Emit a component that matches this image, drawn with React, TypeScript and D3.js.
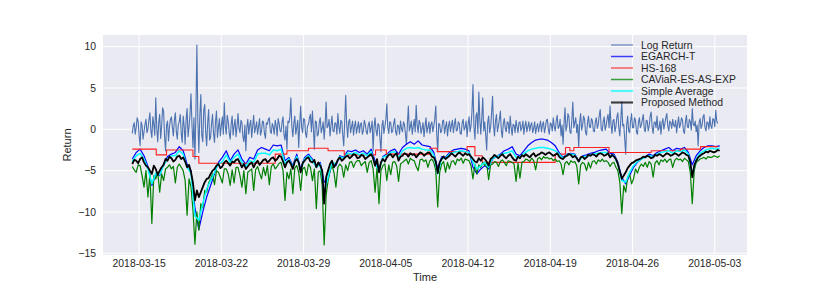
import * as d3 from "d3";

// samples; each series has its own sampling step
const start = new Date(Date.UTC(2018, 2, 14, 10));
const logStepHours = 2;
const fineStepHours = 4;
const coarseStepHours = 8;

const logReturn = [
  -0.5, 0.4, 0.8, -0.6, 0.2, 1.4, 1.0, -0.8, -2.0, 0.9,
  0.5, -1.2, -0.3, 0.6, 1.2, -0.4, 0.0, 1.1, 2.0, -0.2,
  -1.0, 1.5, 0.6, -0.7, 3.8, 0.2, -1.5, 0.8, 1.8, -1.1,
  0.4, 2.6, 2.2, -0.9, -2.6, 0.5, 1.0, -1.4, 0.3, 1.2,
  1.5, 0.2, -0.8, 1.1, 2.0, -0.3, -1.2, 0.6, 0.9, 1.8,
  -0.5, -1.6, 1.6, 0.4, -1.8, 1.2, 2.5, -0.9, 0.3, 1.9,
  4.3, 0.5, -2.2, 1.4, -3.6, 2.1, 10.2, 1.0, -2.8, 1.6,
  4.2, -0.7, -1.5, 2.3, 3.0, -0.4, -2.0, 0.8, 2.4, -1.3,
  -1.0, 0.7, 1.8, -0.5, -1.6, 0.9, 2.2, -1.0, 0.2, 1.3,
  -0.8, 0.5, 1.5, -0.6, 3.2, 0.4, -0.6, 1.7, 1.0, -0.4,
  -1.2, 0.6, 1.6, -0.7, 0.4, 1.2, -0.9, 0.3, 1.9, 0.1,
  -0.4, 1.1, 0.8, -0.9, -1.5, 0.5, -2.6, 0.2, 1.2, -0.6,
  0.5, 1.1, -1.0, 0.4, 1.7, -0.4, 0.2, 0.9, -0.6, 0.3,
  1.3, -0.7, -0.2, 1.0, 0.9, -0.5, -1.1, 0.8, 0.6, 1.2,
  1.4, -0.2, -0.5, 0.7, 0.3, -0.6, 1.1, 0.4, -0.8, 1.3,
  0.7, -0.2, -0.3, 0.9, 1.5, -0.7, -1.3, 0.4, -2.4, 1.0,
  0.8, 1.5, 3.8, 0.3, -0.9, 0.7, 1.6, -0.6, 0.2, 1.1,
  -2.2, 0.6, 2.8, 0.2, -0.4, 1.3, 1.2, -0.5, -1.0, 0.4,
  0.6, 1.4, 1.8, -0.3, 2.2, 0.1, -2.4, 1.0, 0.9, -0.8,
  -0.6, 0.8, 1.4, -0.4, 0.1, 0.9, -1.2, 0.5, 3.3, 0.2,
  0.4, 1.2, -0.8, 0.5, 1.6, -0.2, -0.3, 0.8, 0.7, -0.6,
  1.9, 0.3, -0.5, 1.1, 0.9, -0.7, -2.0, 1.0, 4.1, 0.6,
  -1.0, 0.9, 1.2, -0.4, 0.3, 1.0, -0.7, 0.4, 1.0, -0.5,
  0.2, 0.9, -0.4, 0.6, 0.8, -0.6, -0.2, 1.1, 0.6, -0.3,
  -0.6, 0.5, 0.9, -0.4, 0.2, 1.0, -2.6, 0.3, 1.4, -0.2,
  -0.8, 0.7, 0.5, -1.1, -2.7, 0.4, 1.1, -0.5, 0.3, 1.2,
  3.1, 0.2, -0.5, 0.9, 0.8, -0.4, -0.2, 0.7, 1.3, -0.3,
  -0.7, 0.5, 0.4, -0.6, 1.0, 0.1, -0.3, 0.9, 0.6, -0.5,
  -1.8, 0.6, 2.8, -0.2, 0.3, 1.0, -0.6, 0.4, 1.2, -0.3,
  2.9, 0.5, -0.4, 1.1, 0.7, -0.5, 0.1, 0.8, -0.9, 0.3,
  1.4, -0.4, 0.2, 0.9, -0.5, 0.6, 0.9, -0.3, 0.4, 1.3,
  2.8, -0.6, -2.7, 0.7, 0.6, -0.4, -0.2, 1.0, 1.1, -0.5,
  0.3, 0.9, -0.8, 0.4, 1.0, -0.3, 0.5, 1.1, -0.4, 0.6,
  1.3, -0.2, -0.1, 0.9, 0.7, -0.5, -0.6, 0.8, 1.2, -0.1,
  0.2, 1.0, -0.9, 0.6, 1.5, -0.3, 0.4, 2.2, 5.4, 0.3,
  -1.2, 1.6, 2.0, -0.5, 4.5, 1.2, -0.6, 1.4, 3.8, -0.2,
  0.9, -0.7, -2.5, 0.8, 1.6, -0.4, 0.2, 1.9, 4.0, 0.5,
  -0.8, 1.0, 1.8, -0.3, 0.4, 1.2, 2.2, -0.2, -1.0, 0.7,
  1.3, 0.1, -0.3, 0.9, 0.8, -0.5, 1.6, 0.2, -0.7, 0.6,
  0.5, -0.4, 1.1, 0.3, -0.4, 0.8, 0.9, -0.2, 0.2, 1.0,
  -0.6, 0.4, 1.0, -0.3, 0.3, 0.9, -0.2, 0.5, 0.8, -0.4,
  0.1, 0.9, -0.5, 0.2, 0.7, -0.3, 0.4, 1.0, -0.3, 0.6,
  0.9, -0.4, 0.2, 1.1, 1.2, 0.0, -0.6, 0.8, 0.6, -0.2,
  1.4, 0.3, -0.2, 1.0, 1.7, 0.1, 0.3, 1.2, -0.8, 0.5,
  -1.8, 0.7, 2.6, -0.2, 0.4, 1.9, 1.5, -0.3, -0.5, 1.1,
  3.3, 0.2, 0.8, 1.4, -0.4, 0.6, -2.2, 0.9, 1.9, -0.1,
  0.5, 1.6, 1.2, -0.4, -0.7, 0.8, 1.6, 0.3, 0.2, 1.3,
  1.0, -0.2, -0.3, 0.9, 1.4, 0.1, 0.6, 1.7, 2.4, 0.0,
  -0.2, 0.9, 1.5, -0.1, 0.4, 1.3, 1.8, 0.2, 2.8, 0.6,
  -0.5, 1.0, 1.2, -0.3, 0.3, 1.5, 2.0, 0.1, -0.8, 1.2,
  3.3, 0.4, 0.6, -1.2, -3.0, 0.5, 1.6, -0.2, -0.4, 1.0,
  1.9, 0.2, 0.2, 1.4, 1.1, -0.3, -0.6, 0.8, 1.4, 0.2,
  0.5, 1.2, 1.8, 0.0, -0.3, 1.1, 1.0, -0.2, 0.4, 1.6,
  2.1, 0.3, -0.5, 0.8, 0.9, 0.2, 1.6, -0.1, 0.1, 1.0,
  -0.6, 0.7, 1.3, 0.0, 0.7, 1.4, 1.9, 0.4, -0.2, 1.0,
  0.8, 0.1, 1.2, 0.5, 0.3, 1.1, -0.4, 0.6, 1.5, 0.2,
  0.6, 1.4, 1.1, -0.2, -0.5, 0.9, 1.7, 0.3, 0.2, 1.2,
  0.9, -0.1, 2.5, 0.6, 0.4, 1.0, -0.3, 0.5, -2.0, 0.8,
  1.3, 0.1, 0.5, 1.5, 1.8, 0.2, -0.2, 0.9, 0.8, 0.0,
  1.5, 0.4, 0.1, 1.3, 1.2, 0.3, 2.3, 1.0, 0.7,
];

const egarchT = [
  -3.6, -2.8, -2.4, -3.2, -4.5, -6.8, -5.5, -5.6, -4.2, -3.3,
  -3.0, -2.8, -2.1, -2.6, -4.2, -5.0, -9.5, -12.1, -10.0, -8.2,
  -6.8, -5.4, -4.0, -3.4, -2.6, -3.8, -3.0, -2.5, -3.6, -4.2,
  -3.4, -3.6, -2.5, -2.2, -2.4, -2.6, -1.9, -2.0, -1.9, -3.8,
  -3.4, -4.4, -3.0, -4.8, -3.4, -3.0, -3.6, -4.5, -4.0, -6.4,
  -6.0, -4.2, -4.4, -3.2, -3.4, -2.6, -2.7, -2.5, -2.8, -2.6,
  -3.0, -2.4, -3.8, -4.8, -3.3, -3.0, -2.6, -2.4, -3.0, -2.2,
  -1.8, -1.5, -1.8, -1.4, -1.9, -2.0, -2.1, -2.8, -4.8, -3.3,
  -3.4, -2.8, -2.5, -2.4, -2.3, -2.4, -2.6, -4.6, -5.4, -4.8,
  -4.4, -4.8, -3.6, -3.3, -3.0, -2.6, -2.4, -2.1, -3.0, -3.2,
  -2.6, -2.0, -1.6, -1.3, -1.2, -1.2, -1.3, -1.6, -2.0, -2.8,
  -3.4, -3.0, -2.9, -3.0, -3.8, -3.2, -3.1, -2.9, -2.8, -2.6,
  -2.5, -2.4, -2.9, -3.0, -4.0, -5.8, -6.6, -5.6, -4.6, -4.0,
  -3.6, -3.3, -3.0, -3.2, -2.8, -2.6, -2.4, -2.2, -2.6, -2.3,
  -2.4, -2.2, -2.8, -4.3, -3.2, -2.6, -2.2, -2.0, -2.0, -2.1, -2.0,
];

const simpleAvg = [
  -3.9, -3.2, -2.9, -3.6, -4.8, -6.6, -5.3, -5.5, -4.4, -3.6,
  -3.2, -3.2, -2.6, -3.0, -4.6, -5.3, -10.5, -11.0, -9.0, -7.2,
  -6.2, -5.2, -4.2, -3.9, -3.1, -4.0, -3.4, -3.0, -4.0, -4.5,
  -3.8, -4.0, -3.0, -2.9, -2.9, -3.1, -2.5, -2.6, -2.4, -4.2,
  -3.6, -4.6, -3.3, -5.0, -3.6, -3.2, -3.8, -4.6, -4.2, -7.6,
  -5.8, -4.0, -4.2, -3.3, -3.5, -2.9, -3.0, -2.8, -3.1, -2.9,
  -3.2, -2.7, -4.2, -5.0, -3.4, -3.2, -2.8, -2.7, -3.4, -2.6,
  -2.3, -2.2, -2.3, -2.2, -2.4, -2.5, -2.5, -3.1, -5.4, -3.5,
  -3.5, -3.0, -2.8, -2.7, -2.6, -2.7, -2.8, -4.0, -4.8, -4.4,
  -4.0, -4.6, -3.5, -3.3, -3.1, -2.9, -2.8, -2.6, -3.4, -3.3,
  -2.9, -2.6, -2.4, -2.3, -2.2, -2.2, -2.3, -2.4, -2.6, -3.0,
  -3.5, -3.1, -3.0, -3.1, -3.9, -3.3, -3.3, -3.1, -3.0, -2.9,
  -2.8, -2.8, -3.2, -3.2, -4.2, -6.2, -6.4, -5.2, -4.4, -3.9,
  -3.6, -3.4, -3.2, -3.3, -3.0, -2.8, -2.7, -2.6, -2.9, -2.6,
  -2.7, -2.5, -3.0, -5.5, -3.6, -2.9, -2.6, -2.4, -2.3, -2.4, -2.3,
];

const caviar = [
  -4.5, -4.9, -5.2, -4.3, -4.4, -5.6, -7.0, -5.0, -8.2, -5.4,
  -11.4, -5.6, -6.0, -5.2, -7.6, -5.4, -6.2, -4.8, -4.6, -4.3,
  -4.8, -4.5, -6.5, -4.6, -4.2, -4.6, -5.0, -6.2, -10.4, -6.0,
  -7.0, -9.8, -13.9, -10.0, -12.2, -9.0, -9.5, -7.4, -7.6, -6.5,
  -6.0, -5.4, -6.7, -5.0, -5.2, -5.8, -6.5, -4.8, -4.8, -5.4,
  -6.8, -4.9, -6.5, -4.6, -4.6, -5.6, -7.0, -5.0, -7.8, -5.2,
  -5.0, -4.8, -7.4, -4.9, -4.5, -5.3, -6.0, -4.6, -5.6, -4.4,
  -6.7, -4.5, -4.2, -4.8, -4.5, -4.1, -4.0, -5.0, -8.6, -5.2,
  -6.0, -4.8, -7.8, -4.7, -4.4, -5.2, -7.4, -4.8, -4.6, -5.6,
  -4.2, -4.6, -6.2, -4.8, -9.6, -5.2, -5.0, -6.8, -14.0, -8.0,
  -6.2, -5.0, -4.4, -5.2, -7.0, -4.6, -4.2, -4.5, -5.8, -4.3,
  -5.0, -4.0, -3.9, -4.6, -4.0, -3.8, -3.8, -4.4, -4.1, -3.9,
  -5.2, -4.0, -3.8, -4.8, -7.6, -4.6, -9.0, -5.0, -4.4, -4.2,
  -6.2, -4.3, -5.5, -4.0, -3.9, -4.4, -6.3, -4.2, -4.0, -3.8,
  -3.6, -4.2, -3.5, -3.7, -3.8, -4.5, -5.0, -3.7, -3.6, -3.9,
  -3.7, -4.6, -3.8, -3.6, -4.0, -5.0, -9.4, -5.2, -4.2, -3.9,
  -5.2, -4.0, -4.8, -3.9, -3.8, -4.3, -3.6, -3.8, -3.5, -4.1,
  -3.6, -3.7, -3.8, -4.4, -6.0, -4.2, -5.4, -4.3, -4.6, -4.0,
  -4.4, -4.1, -6.1, -4.3, -4.2, -3.9, -4.0, -4.5, -3.9, -3.7,
  -4.0, -4.4, -3.8, -3.9, -4.0, -4.2, -6.3, -4.1, -5.9, -4.0,
  -3.9, -3.6, -3.7, -3.9, -3.5, -3.8, -4.9, -3.6, -3.4, -3.7,
  -3.3, -3.5, -3.4, -3.6, -3.5, -3.8, -3.6, -3.9, -3.8, -4.2,
  -5.5, -4.1, -3.9, -4.3, -3.8, -4.0, -3.9, -4.4, -6.6, -4.3,
  -4.0, -4.2, -5.0, -4.0, -4.7, -3.9, -3.8, -4.2, -3.7, -3.9,
  -3.6, -3.9, -3.8, -4.0, -4.5, -4.1, -4.0, -4.6, -5.0, -6.4,
  -10.2, -6.8, -7.6, -5.8, -5.4, -6.6, -6.0, -4.8, -5.3, -4.6,
  -4.2, -4.5, -4.0, -4.6, -3.9, -4.2, -5.8, -4.1, -3.8, -4.3,
  -3.7, -3.9, -3.6, -4.0, -3.7, -3.6, -4.6, -3.8, -3.5, -3.7,
  -3.6, -3.9, -3.5, -3.7, -3.9, -5.2, -9.0, -5.0, -4.0, -3.8,
  -3.6, -3.5, -3.4, -3.6, -3.3, -3.4, -3.4, -3.2, -3.3, -3.4,
  -3.2,
];

const proposed = [
  -4.2, -3.7, -3.8, -4.1, -3.6, -3.4, -4.0, -4.4, -4.6, -5.0,
  -5.4, -4.4, -4.8, -5.5, -5.0, -4.6, -4.3, -3.6, -3.8, -3.3,
  -3.5, -3.9, -3.7, -3.3, -3.2, -3.6, -3.4, -3.9, -4.6, -4.3,
  -5.2, -6.5, -8.6, -7.4, -8.2, -7.6, -7.0, -6.4, -6.0, -5.9,
  -5.4, -5.0, -4.8, -4.4, -4.2, -4.7, -4.5, -4.0, -3.8, -4.1,
  -4.4, -3.9, -4.0, -3.7, -3.6, -4.1, -4.6, -4.2, -4.8, -4.5,
  -4.2, -4.0, -4.6, -4.1, -3.8, -4.3, -4.0, -3.7, -3.6, -4.0,
  -3.8, -3.5, -3.4, -3.8, -3.6, -3.2, -3.3, -3.9, -4.6, -4.0,
  -3.8, -4.2, -4.8, -3.9, -3.6, -4.0, -5.2, -4.1, -3.8, -3.5,
  -3.4, -3.9, -4.0, -3.7, -4.6, -4.0, -4.4, -5.0, -9.0, -5.8,
  -5.0, -4.2, -3.8, -4.6, -4.2, -3.7, -3.4, -3.8, -3.6, -3.3,
  -3.2, -3.5, -3.3, -3.0, -3.1, -3.5, -3.4, -3.1, -3.2, -3.6,
  -3.4, -3.2, -3.0, -3.5, -4.4, -3.6, -5.2, -4.0, -3.6, -3.9,
  -3.4, -3.1, -3.0, -3.4, -3.1, -2.9, -3.8, -3.3, -3.2, -2.9,
  -3.0, -3.3, -2.9, -3.1, -3.0, -3.4, -3.1, -2.8, -2.9, -3.2,
  -3.0, -2.8, -2.9, -3.3, -3.4, -3.9, -5.3, -4.0, -3.6, -3.3,
  -3.6, -3.4, -3.2, -2.9, -3.1, -3.3, -3.0, -2.8, -3.0, -3.2,
  -2.9, -3.1, -3.0, -3.3, -3.6, -3.9, -4.0, -3.5, -3.8, -3.4,
  -3.6, -3.9, -4.4, -3.6, -3.4, -3.1, -3.3, -3.5, -3.2, -3.0,
  -3.3, -3.5, -3.2, -3.0, -3.4, -3.7, -3.8, -3.3, -3.5, -3.1,
  -3.3, -3.0, -3.2, -3.4, -3.1, -2.9, -3.3, -3.1, -3.0, -2.8,
  -2.9, -3.1, -2.9, -2.8, -3.0, -3.2, -3.1, -2.9, -3.3, -3.5,
  -3.6, -3.3, -3.2, -3.0, -3.1, -3.4, -3.2, -3.5, -3.9, -3.4,
  -3.3, -3.6, -3.4, -3.1, -3.2, -3.0, -3.1, -3.3, -3.0, -2.9,
  -3.0, -3.2, -3.1, -2.9, -3.4, -3.1, -3.3, -3.6, -4.2, -5.1,
  -6.0, -5.6, -5.2, -4.7, -4.4, -4.1, -4.0, -3.8, -3.7, -3.6,
  -3.5, -3.3, -3.4, -3.2, -3.3, -3.5, -3.4, -3.1, -3.2, -3.0,
  -3.1, -3.3, -3.1, -2.9, -3.0, -3.2, -3.1, -2.9, -3.0, -3.2,
  -3.0, -2.8, -2.9, -3.1, -3.2, -4.0, -5.8, -4.4, -3.8, -3.4,
  -3.2, -3.0, -2.9, -2.7, -2.8, -2.6, -2.7, -2.8, -2.7, -2.5,
  -2.6,
];

// HS-168 is a step series: level holds from each date until the next
const hsDates = [
  "2018-03-14T10:00", "2018-03-16T11:00", "2018-03-17T08:00", "2018-03-19T14:00",
  "2018-03-20T02:00", "2018-03-26T14:00", "2018-03-27T14:00", "2018-03-29T10:00",
  "2018-03-31T02:00", "2018-04-01T11:00", "2018-04-04T03:00", "2018-04-05T01:00",
  "2018-04-08T18:00", "2018-04-09T09:00", "2018-04-11T22:00", "2018-04-12T14:00",
  "2018-04-13T05:00", "2018-04-19T10:00", "2018-04-20T07:00", "2018-04-20T16:00",
  "2018-04-21T00:00", "2018-04-24T00:00", "2018-04-27T14:00", "2018-04-30T02:00",
  "2018-05-01T19:00", "2018-05-03T06:00",
];
const hsLevels = [
  -2.4, -3.1, -2.5, -3.3, -4.1, -3.0, -2.6, -2.3, -2.6, -3.1, -2.5, -3.0, -2.3,
  -2.7, -2.1, -3.2, -4.0, -3.0, -2.2, -2.6, -2.2, -2.8, -2.6, -2.4, -2.1, -2.1,
];

const xTicks = [
  "2018-03-15", "2018-03-22", "2018-03-29", "2018-04-05",
  "2018-04-12", "2018-04-19", "2018-04-26", "2018-05-03",
];
const yTicks = [10, 5, 0, -5, -10, -15];

const W = 830;
const H = 291;
const margin = { top: 35, right: 83, bottom: 36, left: 103 };

type Pt = { date: Date; value: number };

const toPoints = (vals: number[], stepH: number): Pt[] =>
  vals.map((v, i) => ({ date: d3.utcHour.offset(start, i * stepH), value: v }));

export default function App() {
  const logPts = toPoints(logReturn, logStepHours);
  const hsPts: Pt[] = hsDates.map((d, i) => ({ date: new Date(d + ":00Z"), value: hsLevels[i] }));

  const t0 = start.getTime();
  const t1 = logPts[logPts.length - 1].date.getTime();
  const tPad = (t1 - t0) * 0.05;
  const x = d3
    .scaleUtc()
    .domain([new Date(t0 - tPad), new Date(t1 + tPad)])
    .range([margin.left, W - margin.right]);

  const allVals = [...logReturn, ...egarchT, ...caviar, ...simpleAvg, ...proposed, ...hsLevels];
  const [vMin, vMax] = d3.extent(allVals) as [number, number];
  const vPad = (vMax - vMin) * 0.05;
  const y = d3
    .scaleLinear()
    .domain([vMin - vPad, vMax + vPad])
    .range([H - margin.bottom, margin.top]);

  const line = d3
    .line<Pt>()
    .x((d) => x(d.date))
    .y((d) => y(d.value));
  const stepLine = d3
    .line<Pt>()
    .x((d) => x(d.date))
    .y((d) => y(d.value))
    .curve(d3.curveStepAfter);

  const series = [
    { label: "Log Return", color: "#4C72B0", width: 1.1, d: line(logPts) },
    { label: "EGARCH-T", color: "#0000FF", width: 1.2, d: line(toPoints(egarchT, coarseStepHours)) },
    { label: "HS-168", color: "#FF2020", width: 1.1, d: stepLine(hsPts) },
    { label: "CAViaR-ES-AS-EXP", color: "#008000", width: 1.2, d: line(toPoints(caviar, fineStepHours)) },
    { label: "Simple Average", color: "#00FFFF", width: 1.5, d: line(toPoints(simpleAvg, coarseStepHours)) },
    { label: "Proposed Method", color: "#000000", width: 1.8, d: line(toPoints(proposed, fineStepHours)) },
  ];

  const fmtY = (v: number) => (v < 0 ? "\u2212" + Math.abs(v) : String(v));
  const textColor = "#262626";

  return (
    <svg
      width={W}
      height={H}
      style={{ position: "absolute", left: 0, top: 0, background: "#fff" }}
      fontFamily="'Liberation Sans', Arial, sans-serif"
    >
      <rect
        x={margin.left}
        y={margin.top}
        width={W - margin.left - margin.right}
        height={H - margin.top - margin.bottom}
        fill="#EAEAF2"
      />
      {/* grid */}
      {yTicks.map((t) => (
        <line key={"gy" + t} x1={margin.left} x2={W - margin.right} y1={y(t)} y2={y(t)} stroke="#fff" strokeWidth={1} />
      ))}
      {xTicks.map((t) => {
        const px = x(new Date(t + "T00:00:00Z"));
        return <line key={"gx" + t} x1={px} x2={px} y1={margin.top} y2={H - margin.bottom} stroke="#fff" strokeWidth={1} />;
      })}

      <g clipPath="url(#plotClip)">
        <clipPath id="plotClip">
          <rect x={margin.left} y={margin.top} width={W - margin.left - margin.right} height={H - margin.top - margin.bottom} />
        </clipPath>
        {series.map((s) => (
          <path key={s.label} d={s.d ?? ""} fill="none" stroke={s.color} strokeWidth={s.width} strokeLinejoin="round" />
        ))}
      </g>

      {/* tick labels */}
      {yTicks.map((t) => (
        <text key={"ty" + t} x={96} y={y(t)} dy="0.35em" textAnchor="end" fontSize={10.4} fill={textColor}>
          {fmtY(t)}
        </text>
      ))}
      {xTicks.map((t) => (
        <text
          key={"tx" + t}
          x={x(new Date(t + "T00:00:00Z"))}
          y={267}
          textAnchor="middle"
          fontSize={10.4}
          fill={textColor}
        >
          {t}
        </text>
      ))}
      <text x={425} y={281} textAnchor="middle" fontSize={11} fill={textColor}>
        Time
      </text>
      <text transform={`translate(71,${(margin.top + H - margin.bottom) / 2}) rotate(-90)`} textAnchor="middle" fontSize={11} fill={textColor}>
        Return
      </text>

      {/* legend */}
      <g>
        {series.map((s, i) => {
          const ly = 45 + i * 11.5;
          return (
            <g key={"lg" + s.label}>
              <line x1={611} x2={633} y1={ly} y2={ly} stroke={s.color} strokeWidth={s.width + 0.3} strokeOpacity={0.75} />
              <text x={641} y={ly} dy="0.35em" fontSize={10.4} fill={textColor}>
                {s.label}
              </text>
            </g>
          );
        })}
      </g>
    </svg>
  );
}
